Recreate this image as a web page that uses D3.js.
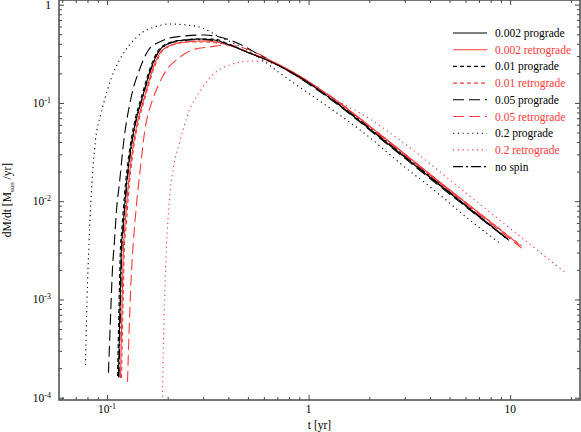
<!DOCTYPE html>
<html>
<head>
<meta charset="utf-8">
<script src="https://cdn.jsdelivr.net/npm/d3@7"></script>
<style>
  body { margin: 0; background: #fff; }
  svg { display: block; font-family: "Liberation Serif", "Times New Roman", serif; }
</style>
</head>
<body>
<svg id="chart" width="581" height="432"></svg>
<script>

// time [yr] and dM/dt [Msun/yr], one pair per curve
const t_p002 = [0.114, 0.1153, 0.1167, 0.118, 0.1194, 0.125, 0.1324, 0.14, 0.1483, 0.1663, 0.1822, 0.2113, 0.2424, 0.2877, 0.3415, 0.4055, 0.5093, 0.619, 0.902, 1.315, 2.25, 4.47, 9.72];
const m_p002 = [0.000163, 0.000489, 0.0014, 0.00358, 0.00474, 0.0153, 0.0391, 0.0703, 0.107, 0.232, 0.346, 0.417, 0.437, 0.448, 0.437, 0.389, 0.322, 0.274, 0.184, 0.107, 0.045, 0.0146, 0.00412];

const t_r002 = [0.1167, 0.118, 0.1194, 0.1208, 0.122, 0.1279, 0.1354, 0.1432, 0.1518, 0.170, 0.1864, 0.216, 0.248, 0.2944, 0.349, 0.415, 0.5093, 0.619, 0.902, 1.315, 2.25, 4.47, 11.15];
const m_r002 = [0.000159, 0.000489, 0.0014, 0.00358, 0.00474, 0.0153, 0.0391, 0.0703, 0.107, 0.232, 0.338, 0.398, 0.417, 0.427, 0.417, 0.380, 0.322, 0.280, 0.188, 0.1123, 0.0483, 0.01567, 0.00358];

const t_p01 = [0.1128, 0.114, 0.1153, 0.1167, 0.118, 0.1236, 0.1309, 0.1384, 0.1466, 0.1644, 0.180, 0.209, 0.240, 0.2845, 0.338, 0.401, 0.5093, 0.619, 0.902, 1.315, 2.25, 4.47, 9.5];
const m_p01 = [0.000166, 0.000489, 0.0014, 0.00358, 0.00474, 0.0153, 0.0391, 0.0703, 0.107, 0.232, 0.346, 0.417, 0.437, 0.448, 0.448, 0.398, 0.322, 0.274, 0.184, 0.107, 0.045, 0.0146, 0.00422];

const t_r01 = [0.118, 0.1194, 0.1208, 0.122, 0.1236, 0.1293, 0.1368, 0.145, 0.1534, 0.172, 0.1885, 0.2188, 0.251, 0.2978, 0.3533, 0.4197, 0.5093, 0.619, 0.902, 1.315, 2.25, 4.47, 11.4];
const m_r01 = [0.000159, 0.000489, 0.0014, 0.00358, 0.00474, 0.0153, 0.0391, 0.0703, 0.107, 0.232, 0.338, 0.398, 0.417, 0.417, 0.408, 0.380, 0.322, 0.280, 0.188, 0.1123, 0.0483, 0.01567, 0.0035];

const t_p05 = [0.1017, 0.104, 0.1064, 0.109, 0.1115, 0.1153, 0.1208, 0.1309, 0.1466, 0.1607, 0.1822, 0.204, 0.2424, 0.305, 0.3614, 0.455, 0.571, 0.718, 0.902, 1.315, 2.25, 4.47, 9.39];
const m_p05 = [0.000179, 0.000618, 0.002, 0.00403, 0.00814, 0.0153, 0.0391, 0.107, 0.232, 0.346, 0.417, 0.458, 0.480, 0.492, 0.469, 0.398, 0.308, 0.238, 0.1795, 0.105, 0.044, 0.0142, 0.00432];

const t_r05 = [0.1264, 0.1293, 0.1324, 0.1354, 0.14, 0.1466, 0.1534, 0.168, 0.1822, 0.197, 0.221, 0.2657, 0.3227, 0.392, 0.455, 0.540, 0.678, 0.902, 1.346, 2.25, 4.47, 11.4];
const m_r05 = [0.000145, 0.000618, 0.002, 0.00403, 0.00914, 0.0223, 0.0494, 0.107, 0.160, 0.216, 0.274, 0.346, 0.371, 0.389, 0.371, 0.330, 0.255, 0.1795, 0.1097, 0.0472, 0.0153, 0.00333];

const t_p2 = [0.0782, 0.0796, 0.0814, 0.0838, 0.0877, 0.0929, 0.0972, 0.1052, 0.1153, 0.1293, 0.1483, 0.172, 0.204, 0.248, 0.298, 0.361, 0.455, 0.571, 0.718, 0.902, 1.315, 1.94, 2.83, 4.37, 6.30, 8.87];
const m_p2 = [0.000215, 0.000986, 0.00375, 0.0130, 0.042, 0.0754, 0.107, 0.1795, 0.274, 0.389, 0.515, 0.593, 0.636, 0.621, 0.579, 0.469, 0.380, 0.287, 0.202, 0.145, 0.0848, 0.0472, 0.0245, 0.0121, 0.00644, 0.00375];

const t_r2 = [0.1885, 0.1907, 0.193, 0.197, 0.204, 0.2138, 0.229, 0.2565, 0.2877, 0.334, 0.4197, 0.527, 0.619, 0.743, 0.902, 1.425, 1.94, 2.83, 4.37, 5.95, 7.91, 11.15, 19.1];
const m_r2 = [0.000102, 0.000387, 0.000986, 0.00318, 0.01028, 0.0223, 0.0391, 0.0848, 0.129, 0.192, 0.249, 0.267, 0.261, 0.232, 0.184, 0.1023, 0.0719, 0.042, 0.0208, 0.0124, 0.00776, 0.00443, 0.00182];

const t_nospin = [0.1147, 0.116, 0.1173, 0.1187, 0.12, 0.1257, 0.133, 0.1405, 0.149, 0.167, 0.183, 0.212, 0.244, 0.289, 0.344, 0.408, 0.5093, 0.619, 0.902, 1.315, 2.25, 4.47, 9.95];
const m_nospin = [0.000161, 0.000489, 0.0014, 0.00358, 0.00474, 0.0153, 0.0391, 0.0703, 0.107, 0.232, 0.344, 0.412, 0.432, 0.44, 0.43, 0.386, 0.322, 0.276, 0.186, 0.109, 0.0465, 0.015, 0.00393];

const seriesNames = ["0.002 prograde", "0.002 retrograde", "0.01 prograde", "0.01 retrograde",
                     "0.05 prograde", "0.05 retrograde", "0.2 prograde", "0.2 retrograde", "no spin"];

const xMajorTicks = [0.1, 1, 10];
const yMajorTicks = [1e-4, 1e-3, 1e-2, 1e-1, 1];

const RED = "#ff3838";
const series = [
    {name: seriesNames[0], t: t_p002, m: m_p002, color: "#000", dash: null},
    {name: seriesNames[1], t: t_r002, m: m_r002, color: RED, dash: null},
    {name: seriesNames[2], t: t_p01, m: m_p01, color: "#000", dash: "4,3"},
    {name: seriesNames[3], t: t_r01, m: m_r01, color: RED, dash: "4,3"},
    {name: seriesNames[4], t: t_p05, m: m_p05, color: "#000", dash: "11,5"},
    {name: seriesNames[5], t: t_r05, m: m_r05, color: RED, dash: "11,5"},
    {name: seriesNames[6], t: t_p2, m: m_p2, color: "#000", dash: "1.2,3.6"},
    {name: seriesNames[7], t: t_r2, m: m_r2, color: RED, dash: "1.2,3.6"},
    {name: seriesNames[8], t: t_nospin, m: m_nospin, color: "#000", dash: "10,3,2,3"},
];

const plot = {left: 59, right: 580, top: 0, bottom: 400};

const svg = d3.select("#chart");

const x = d3.scaleLog().domain([0.0578, 22.2]).range([plot.left, plot.right]);
const y = d3.scaleLog().domain([9.48e-5, 1.116]).range([plot.bottom, plot.top]);

svg.append("defs").append("clipPath").attr("id", "clip")
    .append("rect")
    .attr("x", plot.left).attr("y", plot.top)
    .attr("width", plot.right - plot.left).attr("height", plot.bottom - plot.top);

// curves
const line = d3.line()
    .x(d => x(d[0]))
    .y(d => y(d[1]))
    .curve(d3.curveMonotoneX);

svg.append("g").attr("clip-path", "url(#clip)")
    .selectAll("path")
    .data(series.slice().reverse())
    .enter()
    .append("path")
    .attr("d", s => line(s.t.map((v, i) => [v, s.m[i]])))
    .attr("fill", "none")
    .attr("stroke", s => s.color)
    .attr("stroke-width", 1.1)
    .attr("stroke-dasharray", s => s.dash);

// ticks, pointing inward on all four sides
const xMinor = x.ticks().filter(v => !xMajorTicks.includes(v));
const yMinor = y.ticks().filter(v => !yMajorTicks.some(m => Math.abs(m - v) / m < 1e-6));
const tickColor = "#444";

function drawTicks(axis, vals, size, pos) {
    const g = svg.append("g").attr("transform", pos)
        .call(axis.tickValues(vals).tickSize(size).tickFormat(""));
    g.select(".domain").remove();
    g.selectAll("line").attr("stroke", tickColor).attr("stroke-width", 1);
}

drawTicks(d3.axisBottom(x), xMinor, -3, `translate(0,${plot.bottom})`);
drawTicks(d3.axisBottom(x), xMajorTicks, -5, `translate(0,${plot.bottom})`);
drawTicks(d3.axisTop(x), xMinor, -3, `translate(0,${plot.top})`);
drawTicks(d3.axisTop(x), xMajorTicks, -5, `translate(0,${plot.top})`);
drawTicks(d3.axisLeft(y), yMinor, -3, `translate(${plot.left},0)`);
drawTicks(d3.axisLeft(y), yMajorTicks, -5, `translate(${plot.left},0)`);
drawTicks(d3.axisRight(y), yMinor, -3, `translate(${plot.right},0)`);
drawTicks(d3.axisRight(y), yMajorTicks, -5, `translate(${plot.right},0)`);

// frame
svg.append("rect")
    .attr("x", plot.left).attr("y", plot.top)
    .attr("width", plot.right - plot.left).attr("height", plot.bottom - plot.top)
    .attr("fill", "none").attr("stroke", "#4a4a4a").attr("stroke-width", 1.5);

// tick labels with powers of ten
function powLabel(sel, v) {
    const e = Math.round(Math.log10(v));
    if (e === 0) { sel.text("1"); return; }
    if (e === 1) { sel.text("10"); return; }
    sel.text("10");
    sel.append("tspan").attr("dy", -4).attr("font-size", 8).text(String(e));
}

svg.append("g").selectAll("text")
    .data(xMajorTicks).enter()
    .append("text")
    .attr("x", d => x(d))
    .attr("y", 413)
    .attr("text-anchor", "middle")
    .attr("font-size", 11.5)
    .each(function(d) { powLabel(d3.select(this), d); });

svg.append("g").selectAll("text")
    .data(yMajorTicks).enter()
    .append("text")
    .attr("x", 51)
    .attr("y", d => y(d) + 4)
    .attr("text-anchor", "end")
    .attr("font-size", 11.5)
    .each(function(d) { powLabel(d3.select(this), d); });

// axis titles
svg.append("text")
    .attr("x", (plot.left + plot.right) / 2)
    .attr("y", 429)
    .attr("text-anchor", "middle")
    .attr("font-size", 11.5)
    .text("t [yr]");

const ylab = svg.append("text")
    .attr("transform", `translate(11,${(plot.top + plot.bottom) / 2}) rotate(-90)`)
    .attr("text-anchor", "middle")
    .attr("font-size", 11.5);
ylab.append("tspan").text("dM/dt [M");
ylab.append("tspan").attr("dy", 3).attr("font-size", 7).text("sun");
ylab.append("tspan").attr("dy", -3).text(" /yr]");

// legend
const legend = svg.append("g").attr("transform", "translate(453,33)");
const row = legend.selectAll("g")
    .data(series).enter()
    .append("g")
    .attr("transform", (d, i) => `translate(0,${i * 16.7})`);

row.append("line")
    .attr("x1", 0).attr("x2", 34)
    .attr("stroke", d => d.color)
    .attr("stroke-width", 1.1)
    .attr("stroke-dasharray", d => d.dash);

row.append("text")
    .attr("x", 42)
    .attr("y", 4)
    .attr("font-size", 11.5)
    .attr("fill", d => d.color === "#000" ? "#000" : RED)
    .text(d => d.name);

</script>
</body>
</html>
